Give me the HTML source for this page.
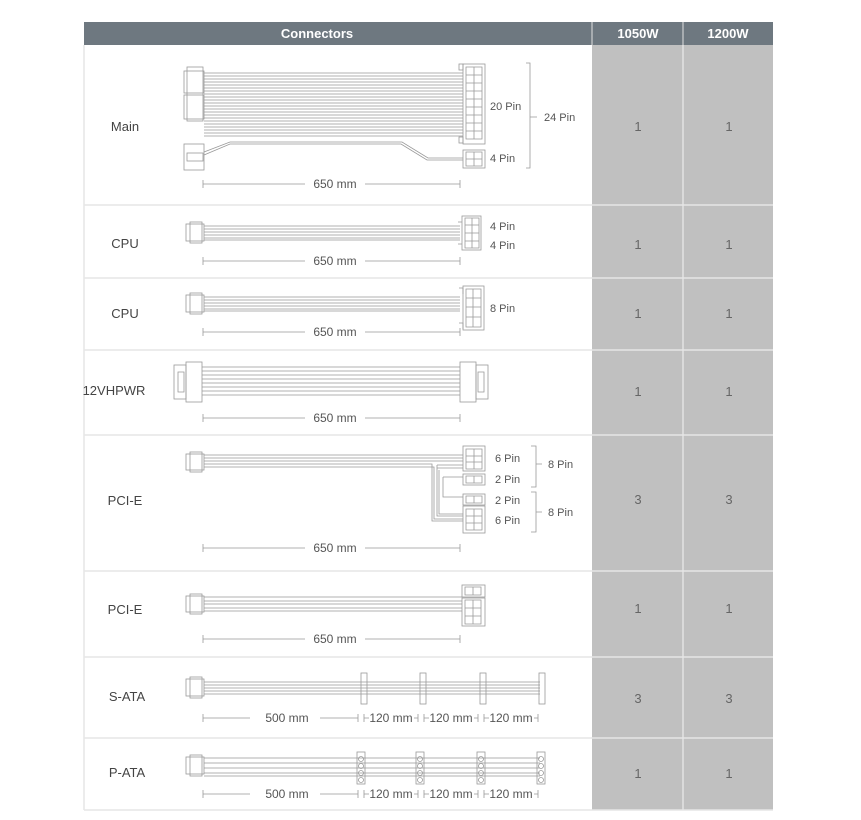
<!DOCTYPE html>
<html><head><meta charset="utf-8"><style>
html,body{margin:0;padding:0;background:#fff;width:861px;height:820px;overflow:hidden}
svg{display:block;font-family:"Liberation Sans",Arial,sans-serif}
</style></head><body>
<svg width="861" height="820" viewBox="0 0 861 820" xmlns="http://www.w3.org/2000/svg">
<!-- gray columns -->
<rect x="592" y="45" width="181" height="765" fill="#c0c0c0"/>
<line x1="683" y1="22" x2="683" y2="810" stroke="#e2e2e2" stroke-width="1.5"/>
<!-- header -->
<rect x="84" y="22" width="689" height="23" fill="#6e7880"/>
<line x1="592" y1="22" x2="592" y2="45" stroke="#e0e0e0"/>
<line x1="683" y1="22" x2="683" y2="45" stroke="#e0e0e0"/>
<g fill="#fff" font-weight="bold" font-size="13" text-anchor="middle">
<text x="317" y="38">Connectors</text><text x="638" y="38">1050W</text><text x="728" y="38">1200W</text></g>
<!-- row separators -->
<g stroke="#e6e6e6" stroke-width="1.5">
<line x1="84" y1="205" x2="773" y2="205"/><line x1="84" y1="278" x2="773" y2="278"/>
<line x1="84" y1="350" x2="773" y2="350"/><line x1="84" y1="435" x2="773" y2="435"/>
<line x1="84" y1="571" x2="773" y2="571"/><line x1="84" y1="657" x2="773" y2="657"/>
<line x1="84" y1="738" x2="773" y2="738"/><line x1="84" y1="810" x2="773" y2="810"/>
<line x1="84" y1="45" x2="84" y2="810"/>
</g>
<!-- labels -->
<g fill="#444" font-size="13" text-anchor="middle">
<text x="125" y="131">Main</text><text x="125" y="248">CPU</text><text x="125" y="318">CPU</text>
<text x="114" y="395">12VHPWR</text><text x="125" y="505">PCI-E</text><text x="125" y="614">PCI-E</text>
<text x="127" y="701">S-ATA</text><text x="127" y="777">P-ATA</text>
</g>
<g fill="#666" font-size="13" text-anchor="middle">
<text x="638" y="131">1</text><text x="729" y="131">1</text>
<text x="638" y="249">1</text><text x="729" y="249">1</text>
<text x="638" y="318">1</text><text x="729" y="318">1</text>
<text x="638" y="396">1</text><text x="729" y="396">1</text>
<text x="638" y="504">3</text><text x="729" y="504">3</text>
<text x="638" y="613">1</text><text x="729" y="613">1</text>
<text x="638" y="703">3</text><text x="729" y="703">3</text>
<text x="638" y="778">1</text><text x="729" y="778">1</text>
</g>
<g fill="none" stroke="#999" stroke-width="0.8">
<!-- MAIN -->
<rect x="184" y="71" width="20" height="22"/><rect x="184" y="95" width="20" height="24"/><rect x="187" y="67" width="16" height="54"/>
<rect x="184" y="144" width="20" height="26"/><rect x="187" y="153" width="16" height="8"/>
<path d="M204 73H463M204 76H463M204 79H463M204 82H463M204 85H463M204 88H463M204 91H463M204 94H463M204 97H463M204 100H463M204 103H463M204 106H463M204 109H463M204 112H463M204 115H463M204 118H463M204 121H463M204 124H463M204 127H463M204 130H463M204 133H463M204 136H463"/>
<path d="M204 152L230 142H402L428 158H463M204 155L230 144H401L427 160H463"/>
<rect x="463" y="64" width="22" height="80"/><rect x="459" y="64" width="4" height="6"/><rect x="459" y="137" width="4" height="6"/>
<path d="M466 67h16v72h-16zM474 67v72M466 75h16M466 83h16M466 91h16M466 99h16M466 107h16M466 115h16M466 123h16M466 131h16"/>
<rect x="463" y="150" width="22" height="18"/><path d="M466 152h16v14h-16zM474 152v14M466 159h16"/>
<path d="M526 63h4v105h-4M530 117h7"/>
<path d="M203 180v8M203 184H305M365 184H460M460 180v8"/>
<!-- CPU 1 -->
<rect x="186" y="224" width="18" height="17"/><rect x="190" y="222" width="12" height="21"/>
<path d="M204 226H460M204 229H460M204 232H460M204 235H460M204 238H460M204 240H460"/>
<rect x="462" y="216" width="19" height="34"/><path d="M465 218h14v30h-14zM472 218v30M465 225h14M465 233h14M465 241h14M458 222h4M458 244h4"/>
<path d="M203 257v8M203 261H305M365 261H460M460 257v8"/>
<!-- CPU 2 -->
<rect x="186" y="295" width="18" height="17"/><rect x="190" y="293" width="12" height="21"/>
<path d="M204 297H460M204 300H460M204 303H460M204 306H460M204 309H460M204 311H460"/>
<rect x="463" y="286" width="21" height="44"/><path d="M466 289h15v38h-15zM473 289v38M466 298h15M466 307h15M466 317h15M459 288h4v6M459 323h4v6"/>
<path d="M203 328v8M203 332H305M365 332H460M460 328v8"/>
<!-- 12VHPWR -->
<rect x="174" y="365" width="12" height="34"/><rect x="186" y="362" width="16" height="40"/><path d="M178 372h6v20h-6z"/>
<path d="M202 367H460M202 371H460M202 375H460M202 379H460M202 383H460M202 387H460M202 391H460M202 395H460"/>
<rect x="460" y="362" width="16" height="40"/><rect x="476" y="365" width="12" height="34"/><path d="M478 372h6v20h-6z"/>
<path d="M203 414v8M203 418H305M365 418H460M460 414v8"/>
<!-- PCI-E 1 -->
<rect x="186" y="454" width="18" height="16"/><rect x="190" y="452" width="12" height="20"/>
<path d="M204 455H463M204 458H463M204 461H463M204 464H432V521H463M204 467H434V519H463"/>
<path d="M437 465H463M437 468H463M437 465V516H463M439 470V514H463M443 477H463M443 477V497H463"/>
<rect x="463" y="446" width="22" height="25"/><path d="M466 449h16v20h-16zM474 449v20M466 456h16M466 462h16"/>
<rect x="463" y="474" width="22" height="11"/><path d="M466 476h16v7h-16zM474 476v7"/>
<rect x="463" y="494" width="22" height="11"/><path d="M466 496h16v7h-16zM474 496v7"/>
<rect x="463" y="506" width="22" height="27"/><path d="M466 509h16v21h-16zM474 509v21M466 516h16M466 523h16"/>
<path d="M531 446h5v41h-5M536 464h6M531 492h5v40h-5M536 512h6"/>
<path d="M203 544v8M203 548H305M365 548H460M460 544v8"/>
<!-- PCI-E 2 -->
<rect x="186" y="596" width="18" height="16"/><rect x="190" y="594" width="12" height="20"/>
<path d="M204 597H462M204 601H462M204 604H462M204 608H462M204 611H462"/>
<rect x="462" y="585" width="23" height="12"/><path d="M465 587h16v8h-16zM473 587v8"/>
<rect x="462" y="598" width="23" height="28"/><path d="M465 600h16v24h-16zM473 600v24M465 608h16M465 616h16"/>
<path d="M203 635v8M203 639H305M365 639H460M460 635v8"/>
<!-- S-ATA -->
<rect x="186" y="679" width="18" height="17"/><rect x="190" y="677" width="12" height="21"/>
<path d="M204 682H540M204 685H540M204 688H540M204 691H540M204 694H540"/>
<rect x="361" y="673" width="6" height="31"/><rect x="420" y="673" width="6" height="31"/><rect x="480" y="673" width="6" height="31"/><rect x="539" y="673" width="6" height="31"/>
<path d="M203 714v8M203 718H250M320 718H358M358 714v8M364 714v8M364 718H369M414 718H418M418 714v8M424 714v8M424 718H429M474 718H478M478 714v8M484 714v8M484 718H489M534 718H538M538 714v8"/>
<!-- P-ATA -->
<rect x="186" y="757" width="18" height="17"/><rect x="190" y="755" width="12" height="21"/>
<path d="M204 758H540M204 763H540M204 768H540M204 773H540M204 776H540"/>
<rect x="357" y="752" width="8" height="32"/><rect x="416" y="752" width="8" height="32"/><rect x="477" y="752" width="8" height="32"/><rect x="537" y="752" width="8" height="32"/>
<circle cx="361" cy="759" r="2.5"/><circle cx="361" cy="766" r="2.5"/><circle cx="361" cy="773" r="2.5"/><circle cx="361" cy="780" r="2.5"/>
<circle cx="420" cy="759" r="2.5"/><circle cx="420" cy="766" r="2.5"/><circle cx="420" cy="773" r="2.5"/><circle cx="420" cy="780" r="2.5"/>
<circle cx="481" cy="759" r="2.5"/><circle cx="481" cy="766" r="2.5"/><circle cx="481" cy="773" r="2.5"/><circle cx="481" cy="780" r="2.5"/>
<circle cx="541" cy="759" r="2.5"/><circle cx="541" cy="766" r="2.5"/><circle cx="541" cy="773" r="2.5"/><circle cx="541" cy="780" r="2.5"/>
<path d="M203 790v8M203 794H250M320 794H358M358 790v8M364 790v8M364 794H369M414 794H418M418 790v8M424 790v8M424 794H429M474 794H478M478 790v8M484 790v8M484 794H489M534 794H538M538 790v8"/>
</g>
<g fill="#555" font-size="11">
<text x="490" y="110">20 Pin</text><text x="490" y="162">4 Pin</text><text x="544" y="121">24 Pin</text>
<text x="490" y="230">4 Pin</text><text x="490" y="249">4 Pin</text><text x="490" y="312">8 Pin</text>
<text x="495" y="462">6 Pin</text><text x="495" y="483">2 Pin</text><text x="548" y="468">8 Pin</text>
<text x="495" y="504">2 Pin</text><text x="495" y="524">6 Pin</text><text x="548" y="516">8 Pin</text>
</g>
<g fill="#555" font-size="12" text-anchor="middle">
<text x="335" y="188">650 mm</text><text x="335" y="265">650 mm</text><text x="335" y="336">650 mm</text>
<text x="335" y="422">650 mm</text><text x="335" y="552">650 mm</text><text x="335" y="643">650 mm</text>
<text x="287" y="722">500 mm</text><text x="391" y="722">120 mm</text><text x="451" y="722">120 mm</text><text x="511" y="722">120 mm</text>
<text x="287" y="798">500 mm</text><text x="391" y="798">120 mm</text><text x="451" y="798">120 mm</text><text x="511" y="798">120 mm</text>
</g>
</svg>
</body></html>
